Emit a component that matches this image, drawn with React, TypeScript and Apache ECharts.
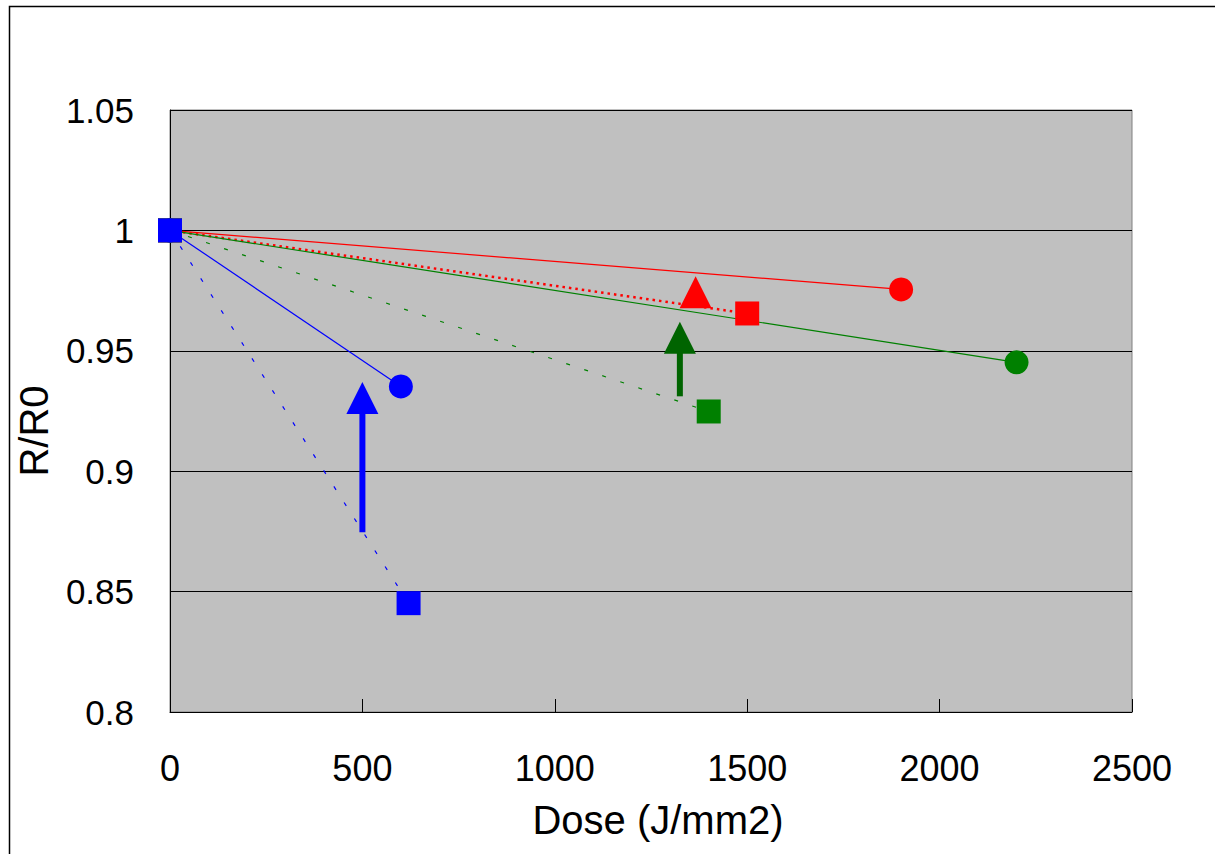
import React, { useEffect, useRef } from "react";
import * as echarts from "echarts";

// Dose (J/mm2), R/R0 pairs
const redSolid: number[][] = [[0, 1], [1900, 0.9755]];
const redDotted: number[][] = [[0, 1], [1500, 0.9655]];
const greenSolid: number[][] = [[0, 1], [2200, 0.9452]];
const greenDashed: number[][] = [[0, 1], [1400, 0.9248]];
const blueSolid: number[][] = [[0, 1], [600, 0.9352]];
const blueDotted: number[][] = [[0, 1], [620, 0.8452]];
// arrows: [x, yStart], [x, yHeadCenter]
const blueArrow: number[][] = [[500, 0.8746], [500, 0.9304]];
const greenArrow: number[][] = [[1325, 0.9311], [1325, 0.9554]];
const redTriangle: number[][] = [[1366, 0.9743]];

const xTicks = { min: 0, max: 2500, interval: 500 };
const yTicks = { min: 0.8, max: 1.05, interval: 0.05 };

const FONT = "'Liberation Sans', Arial, sans-serif";

export default function App() {
  const ref = useRef<HTMLDivElement>(null);
  useEffect(() => {
    document.body.style.margin = "0";
    const chart = echarts.init(ref.current!, null, { renderer: "svg" });
    const lineSeries = (
      data: number[][],
      color: string,
      symbol: string,
      type: any,
      width: number
    ) => ({
      type: "line",
      data,
      symbol,
      symbolSize: 24,
      showSymbol: true,
      itemStyle: { color, opacity: 1 },
      lineStyle: { color, width, type },
      z: 3,
    });
    const arrowSeries = (data: number[][], color: string) => ({
      type: "line",
      data: [
        { value: data[0], symbol: "none" },
        { value: data[1], symbol: "triangle", symbolSize: [32, 32] },
      ],
      itemStyle: { color, opacity: 1 },
      lineStyle: { color, width: 6, cap: "butt" },
      z: 4,
    });
    chart.setOption({
      animation: false,
      backgroundColor: "#ffffff",
      textStyle: { fontFamily: FONT },
      graphic: [
        {
          type: "rect",
          shape: { x: 9.5, y: 6.5, width: 1400, height: 1000 },
          style: { fill: "none", stroke: "#000", lineWidth: 1.5 },
          silent: true,
          z: -10,
        },
      ],
      grid: {
        left: 170,
        top: 110,
        right: 83,
        bottom: 142,
        containLabel: false,
        outerBoundsMode: "none",
        show: true,
        backgroundColor: "#C0C0C0",
        borderColor: "#808080",
        borderWidth: 1,
      },
      xAxis: {
        type: "value",
        min: xTicks.min,
        max: xTicks.max,
        interval: xTicks.interval,
        name: "Dose (J/mm2)",
        nameLocation: "middle",
        nameGap: 88,
        nameTextStyle: {
          fontSize: 40,
          color: "#000",
          fontFamily: FONT,
          padding: [0, 0, 0, 14],
        },
        axisLine: { show: true, onZero: false, lineStyle: { color: "#000", width: 1 } },
        axisTick: { show: true, inside: true, length: 13, lineStyle: { color: "#000" } },
        axisLabel: {
          fontSize: 36,
          color: "#000",
          margin: 38,
          fontFamily: FONT,
          formatter: (v: number) => String(v),
        },
        splitLine: { show: false },
      },
      yAxis: {
        type: "value",
        min: yTicks.min,
        max: yTicks.max,
        interval: yTicks.interval,
        name: "R/R0",
        nameLocation: "middle",
        nameRotate: 90,
        nameGap: 116,
        nameTextStyle: {
          fontSize: 40,
          color: "#000",
          fontFamily: FONT,
          padding: [0, 40, 0, 0],
        },
        axisLine: { show: true, onZero: false, lineStyle: { color: "#000", width: 1 } },
        axisTick: { show: true, inside: true, length: 13, lineStyle: { color: "#000" } },
        axisLabel: {
          fontSize: 35,
          color: "#000",
          margin: 36,
          fontFamily: FONT,
          formatter: (v: number) => String(Math.round(v * 100) / 100),
        },
        splitLine: { show: true, lineStyle: { color: "#000", width: 1 } },
      },
      series: [
        lineSeries(redSolid, "#FF0000", "circle", "solid", 1.2),
        lineSeries(redDotted, "#FF0000", "rect", [2.5, 4], 2.5),
        lineSeries(greenSolid, "#008000", "circle", "solid", 1.2),
        lineSeries(greenDashed, "#008000", "rect", [4, 15], 1.2),
        arrowSeries(greenArrow, "#006400"),
        {
          type: "scatter",
          data: redTriangle,
          symbol: "triangle",
          symbolSize: [32, 32],
          itemStyle: { color: "#FF0000", opacity: 1 },
          z: 4,
        },
        arrowSeries(blueArrow, "#0000FF"),
        lineSeries(blueSolid, "#0000FF", "circle", "solid", 1.2),
        lineSeries(blueDotted, "#0000FF", "rect", [4, 15], 1.2),
      ],
    });
    return () => chart.dispose();
  }, []);
  return <div ref={ref} style={{ width: 1215, height: 854 }} />;
}
